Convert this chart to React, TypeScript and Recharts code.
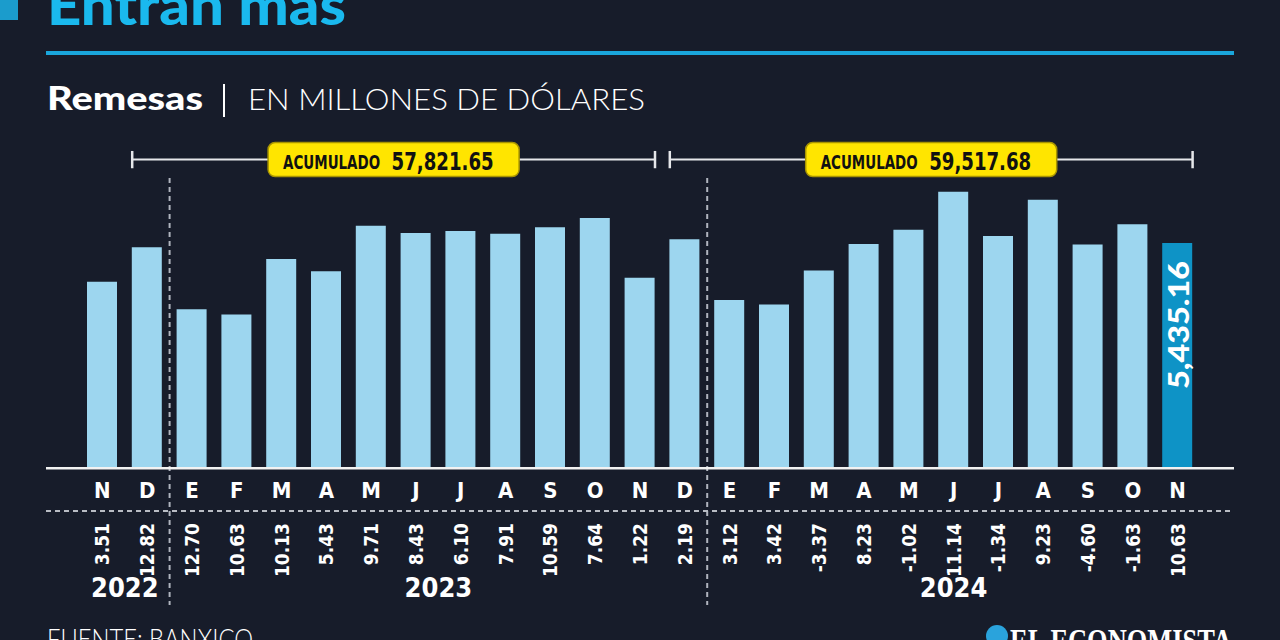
import { BarChart, Bar, XAxis, YAxis, Cell, LabelList, ReferenceLine, ReferenceArea } from "recharts";

const periodos = [
  "2022-11", "2022-12",
  "2023-01", "2023-02", "2023-03", "2023-04", "2023-05", "2023-06",
  "2023-07", "2023-08", "2023-09", "2023-10", "2023-11", "2023-12",
  "2024-01", "2024-02", "2024-03", "2024-04", "2024-05", "2024-06",
  "2024-07", "2024-08", "2024-09", "2024-10", "2024-11",
];
const meses = ["N", "D", "E", "F", "M", "A", "M", "J", "J", "A", "S", "O", "N", "D", "E", "F", "M", "A", "M", "J", "J", "A", "S", "O", "N"];
const remesas = [
  4854, 5372,
  4440, 4361, 5196, 5010, 5693, 5585, 5614, 5573, 5674, 5811, 4913, 5490,
  4578, 4510, 5021, 5422, 5635, 6207, 5539, 6087, 5413, 5716, 5435.16,
];
const variacion = [
  3.51, 12.82,
  12.7, 10.63, 10.13, 5.43, 9.71, 8.43, 6.1, 7.91, 10.59, 7.64, 1.22, 2.19,
  3.12, 3.42, -3.37, 8.23, -1.02, 11.14, -1.34, 9.23, -4.6, -1.63, 10.63,
];
const anios = [
  { label: "2022", desde: "2022-11", hasta: "2022-12" },
  { label: "2023", desde: "2023-01", hasta: "2023-12" },
  { label: "2024", desde: "2024-01", hasta: "2024-11" },
];
const acumulados = [
  { desde: "2022-12", hasta: "2023-11", total: 57821.65 },
  { desde: "2023-12", hasta: "2024-11", total: 59517.68 },
];
const separadores = ["2023-01", "2024-01"];

const W = 1280;
const H = 640;
const M = { top: 139, right: 80, bottom: 0, left: 80 };
const BAR = 30;
const BAND = (W - M.left - M.right) / periodos.length;
const BG = "#171c2a";
const CELESTE = "#9dd6ef";
const AZUL = "#0e93c6";
const COND = "'Liberation Sans Narrow', 'DejaVu Sans Condensed', Roboto, sans-serif";
const SANS = "Lato, 'Open Sans', sans-serif";

const data = periodos.map((p, i) => ({ periodo: p, valor: remesas[i] }));
const fmt = (v: number) => v.toLocaleString("en-US", { minimumFractionDigits: 2, maximumFractionDigits: 2 });

function MesTick({ x, y, payload }: any) {
  const i = periodos.indexOf(payload.value);
  const anio = anios.find((a) => a.desde === payload.value);
  return (
    <g>
      <text x={x} y={y + 30} textAnchor="middle" fill="#fff" fontFamily={COND} fontWeight={700} fontSize={22}>
        {meses[i]}
      </text>
      <text
        transform={`translate(${x},${y + 55}) rotate(-90)`}
        textAnchor="end"
        dominantBaseline="central"
        fill="#fff"
        fontFamily={COND}
        fontWeight={700}
        fontSize={19}
      >
        {variacion[i].toFixed(2)}
      </text>
      {anio && (
        <text
          x={x + ((periodos.indexOf(anio.hasta) - i) * BAND) / 2}
          y={y + 129}
          textAnchor="middle"
          fill="#fff"
          fontFamily={COND}
          fontWeight={700}
          fontSize={27}
        >
          {anio.label}
        </text>
      )}
    </g>
  );
}

function llave(total: number) {
  return (props: any) => {
    const { x, y, width, height } = props;
    const inset = (BAND - BAR) / 2;
    const x0 = x + inset;
    const x1 = x + width - inset;
    const cy = y + height / 2;
    const cx = (x0 + x1) / 2;
    return (
      <g>
        <line x1={x0} y1={cy} x2={x1} y2={cy} stroke="#e6e7ea" strokeWidth={2} />
        <line x1={x0} y1={y} x2={x0} y2={y + height} stroke="#e6e7ea" strokeWidth={2.5} />
        <line x1={x1} y1={y} x2={x1} y2={y + height} stroke="#e6e7ea" strokeWidth={2.5} />
        <rect x={cx - 125.5} y={cy - 17} width={251} height={34} rx={7} fill="#ffe500" stroke="#a89400" strokeWidth={1.5} />
        <text x={cx - 110.5} y={cy + 9} fill="#111" fontFamily={COND} fontWeight={700} fontSize={20} textLength={97} lengthAdjust="spacingAndGlyphs">
          ACUMULADO
        </text>
        <text x={cx - 2} y={cy + 10} fill="#111" fontFamily={COND} fontWeight={700} fontSize={25} textLength={102} lengthAdjust="spacingAndGlyphs">
          {fmt(total)}
        </text>
      </g>
    );
  };
}

function separador(props: any) {
  const { x1 } = props;
  return <line x1={x1} y1={178} x2={x1} y2={605} stroke="#b0b4be" strokeWidth={2} strokeDasharray="5 4" />;
}

function ValorUltimo(props: any) {
  const { x, y, width, index, value } = props;
  if (index !== remesas.length - 1) return null;
  return (
    <text
      transform={`translate(${x + width / 2},${y + 18}) rotate(-90)`}
      textAnchor="end"
      dominantBaseline="central"
      fill="#fff"
      fontFamily={SANS}
      fontWeight={900}
      fontSize={29}
      textLength={128}
      lengthAdjust="spacingAndGlyphs"
    >
      {fmt(value)}
    </text>
  );
}

export default function App() {
  return (
    <div style={{ position: "absolute", left: 0, top: 0, width: W, height: H, background: BG, overflow: "hidden" }}>
      <BarChart width={W} height={H} data={data} margin={M} barCategoryGap={BAND - BAR}>
        <XAxis dataKey="periodo" interval={0} axisLine={false} tickLine={false} tickSize={0} tickMargin={0} height={172} tick={<MesTick />} />
        <YAxis hide domain={[2050, 7000]} allowDataOverflow />
        {acumulados.map((a) => (
          <ReferenceArea key={a.desde} x1={a.desde} x2={a.hasta} y1={6560} y2={6820} shape={llave(a.total)} />
        ))}
        {separadores.map((s) => (
          <ReferenceLine key={s} x={s} position="start" shape={separador} />
        ))}
        <Bar dataKey="valor" barSize={BAR} isAnimationActive={false}>
          {data.map((d, i) => (
            <Cell key={d.periodo} fill={i === data.length - 1 ? AZUL : CELESTE} />
          ))}
          <LabelList dataKey="valor" content={ValorUltimo} />
        </Bar>
      </BarChart>
      <svg width={W} height={H} style={{ position: "absolute", left: 0, top: 0, pointerEvents: "none" }}>
        <rect x={0} y={0} width={18} height={20} fill="#1b9ccc" />
        <text x={47} y={25} fill="#1ab9ee" fontFamily={SANS} fontWeight={900} fontSize={56} textLength={299} lengthAdjust="spacingAndGlyphs">
          Entran más
        </text>
        <rect x={46} y={51} width={1188} height={4} fill="#1aa6dc" />
        <text x={47} y={110} fill="#fff" fontFamily={SANS} fontWeight={900} fontSize={33} textLength={156} lengthAdjust="spacingAndGlyphs">
          Remesas
        </text>
        <line x1={224} y1={84} x2={224} y2={117} stroke="#fff" strokeWidth={2} />
        <text x={248} y={110} fill="#fff" fontFamily={SANS} fontWeight={300} fontSize={29} textLength={397} lengthAdjust="spacingAndGlyphs">
          EN MILLONES DE DÓLARES
        </text>
        <rect x={46} y={467} width={1188} height={2.5} fill="#f2f2f2" />
        <line x1={46} y1={511} x2={1232} y2={511} stroke="#b9bcc4" strokeWidth={2} strokeDasharray="5 4" />
        <text x={47} y={649} fill="#fff" fontFamily={SANS} fontWeight={300} fontSize={28} textLength={206} lengthAdjust="spacingAndGlyphs">
          FUENTE: BANXICO
        </text>
        <circle cx={997} cy={636} r={11} fill="#2aa3dc" />
        <text x={1010} y={652} fill="#fff" fontFamily="'Liberation Serif', serif" fontWeight={700} fontSize={34} textLength={222} lengthAdjust="spacingAndGlyphs">
          EL ECONOMISTA
        </text>
      </svg>
    </div>
  );
}
